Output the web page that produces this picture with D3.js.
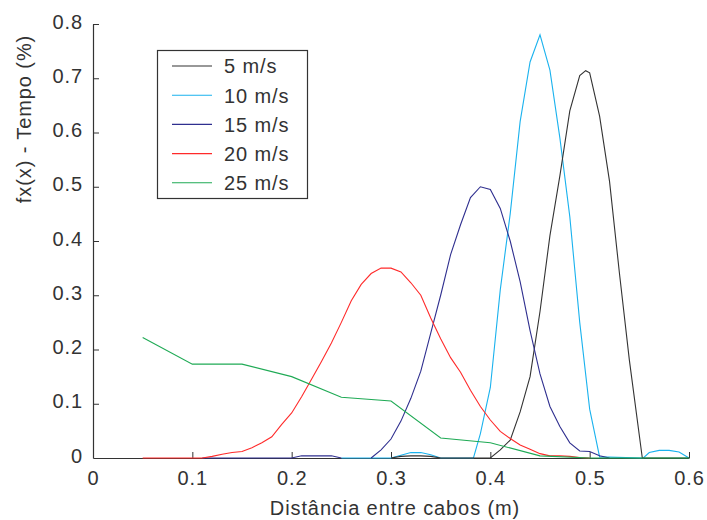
<!DOCTYPE html>
<html><head><meta charset="utf-8">
<script src="https://cdn.jsdelivr.net/npm/d3@7"></script>
<style>body{margin:0;background:#fff}text{font-family:"Liberation Sans",Arial,sans-serif;fill:#333}</style>
</head><body><svg id="c" width="707" height="520"></svg>
<script>
const xTicks=[0,0.1,0.2,0.3,0.4,0.5,0.6];
const yTicks=[0,0.1,0.2,0.3,0.4,0.5,0.6,0.7,0.8];
const seriesNames=["5 m/s","10 m/s","15 m/s","20 m/s","25 m/s"];
const seriesColors=["#333333","#1ab2ee","#2f2f8f","#ff2a2a","#1faa55"];
// 5 m/s
const x5=[0.30,0.31,0.32,0.33,0.34,0.35,0.40,0.41,0.42,0.43,0.44,0.45,0.46,0.47,0.48,0.49,0.496,0.50,0.51,0.52,0.53,0.54,0.553,0.60];
const y5=[0,0.003,0.004,0.004,0.003,0,0,0.015,0.033,0.085,0.15,0.27,0.41,0.52,0.64,0.705,0.714,0.71,0.63,0.51,0.34,0.18,0,0];
// 10 m/s
const x10=[0.25,0.30,0.31,0.32,0.33,0.34,0.35,0.383,0.39,0.40,0.41,0.42,0.43,0.44,0.45,0.46,0.47,0.48,0.49,0.50,0.51,0.554,0.56,0.57,0.58,0.59,0.60];
const y10=[0,0,0.005,0.01,0.01,0.006,0,0,0.045,0.13,0.31,0.45,0.62,0.73,0.78,0.715,0.59,0.445,0.25,0.09,0.002,0,0.01,0.014,0.014,0.011,0];
// 15 m/s (null = gap)
const x15=[0.11,0.20,0.21,0.24,0.25,0.26,0.28,0.29,0.30,0.31,0.32,0.33,0.34,0.35,0.36,0.37,0.38,0.39,0.40,0.41,0.42,0.43,0.44,0.45,0.46,0.47,0.48,0.49,0.50,0.51,0.52];
const y15=[0,0,0.004,0.004,0,null,0,0.015,0.035,0.068,0.11,0.16,0.23,0.30,0.375,0.43,0.48,0.50,0.495,0.46,0.40,0.325,0.235,0.155,0.095,0.058,0.028,0.013,0.012,0.004,0];
// 20 m/s
const x20=[0.05,0.11,0.12,0.13,0.14,0.15,0.16,0.17,0.18,0.19,0.20,0.21,0.22,0.23,0.24,0.25,0.26,0.27,0.28,0.29,0.30,0.31,0.32,0.33,0.34,0.35,0.36,0.37,0.38,0.39,0.40,0.41,0.42,0.43,0.44,0.45,0.46,0.47,0.48,0.49,0.50];
const y20=[0,0,0.003,0.007,0.01,0.012,0.019,0.028,0.039,0.062,0.083,0.113,0.145,0.178,0.212,0.25,0.29,0.32,0.34,0.35,0.35,0.343,0.323,0.30,0.258,0.22,0.185,0.158,0.125,0.095,0.07,0.049,0.036,0.024,0.016,0.008,0.004,0.004,0.003,0.001,0];
// 25 m/s
const x25=[0.05,0.10,0.15,0.20,0.25,0.30,0.35,0.40,0.45,0.50,0.55,0.60];
const y25=[0.222,0.173,0.173,0.15,0.112,0.105,0.037,0.028,0.004,0,0,0];

const seriesX=[x5,x10,x15,x20,x25], seriesY=[y5,y10,y15,y20,y25];
const drawOrder=[1,0,2,3,4];

const svg=d3.select("#c");
const L=93,R=689,T=24,B=458;
const FS="20px", LS="0.9px";
const x=d3.scaleLinear().domain([0,0.6]).range([L,R]);
const y=d3.scaleLinear().domain([0,0.8]).range([B,T]);

const line=d3.line().defined(d=>d[1]!==null).x(d=>x(d[0])).y(d=>y(d[1]));

const fmt=d=>d===0?"0":d3.format(".1f")(d);
const xa=svg.append("g").attr("transform",`translate(0,${B})`)
  .call(d3.axisBottom(x).tickValues(xTicks).tickFormat(fmt).tickSizeInner(-6).tickSizeOuter(0).tickPadding(13));
const ya=svg.append("g").attr("transform",`translate(${L},0)`)
  .call(d3.axisLeft(y).tickValues(yTicks).tickFormat(fmt).tickSizeInner(-6).tickSizeOuter(0).tickPadding(10));
[xa,ya].forEach(a=>{a.select(".domain").attr("stroke","#333").attr("stroke-width",1.2);
  a.selectAll(".tick line").attr("stroke","#333");
  a.selectAll("text").style("font-size",FS).style("letter-spacing",LS).attr("fill","#333");});
ya.selectAll("text").attr("dy","0.2em");
xa.selectAll(".tick line").filter(d=>d===0).remove();
ya.selectAll(".tick line").filter(d=>d===0).remove();

drawOrder.forEach(i=>{
  const pts=seriesX[i].map((v,j)=>[v,seriesY[i][j]]);
  svg.append("path").datum(pts).attr("d",line).attr("fill","none")
    .attr("stroke",seriesColors[i]).attr("stroke-width",1.1);
});

svg.append("text").attr("x",395).attr("y",515).attr("text-anchor","middle")
  .style("font-size",FS).style("letter-spacing",LS).text("Distância entre cabos (m)");
svg.append("text").attr("transform","translate(31,119) rotate(-90)").attr("text-anchor","middle")
  .style("font-size",FS).style("letter-spacing",LS).text("fx(x) - Tempo (%)");

// legend
const lg=svg.append("g");
lg.append("rect").attr("x",157.5).attr("y",50.5).attr("width",150).attr("height",148)
  .attr("fill","#fff").attr("stroke","#333").attr("stroke-width",1.2);
seriesNames.forEach((n,i)=>{
  const yy=66+i*29.2;
  lg.append("line").attr("x1",172).attr("x2",212).attr("y1",yy).attr("y2",yy).attr("stroke",seriesColors[i]).attr("stroke-width",1.1);
  lg.append("text").attr("x",224).attr("y",yy+7.3).style("font-size",FS).style("letter-spacing",LS).text(n);
});
</script></body></html>
